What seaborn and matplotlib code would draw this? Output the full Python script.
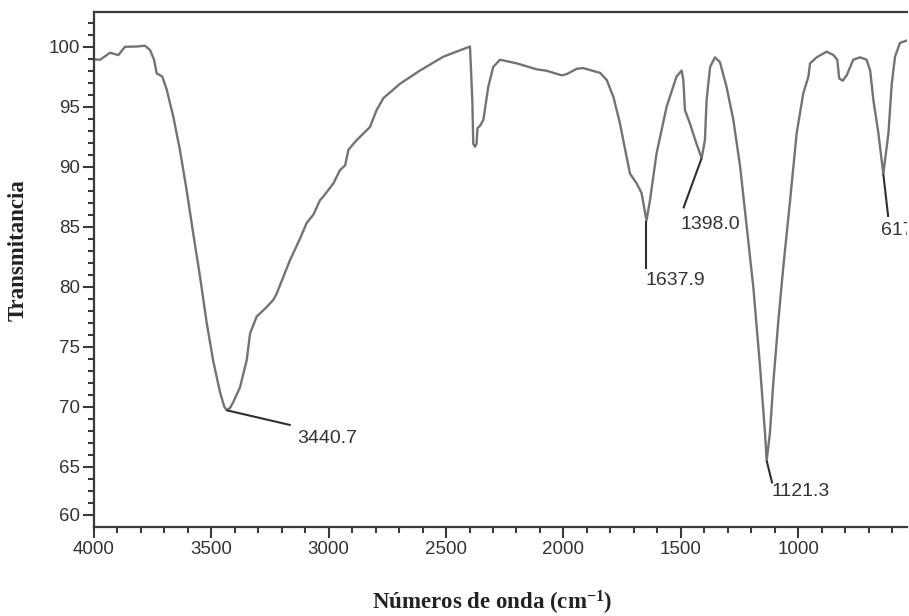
import matplotlib
matplotlib.use("Agg")
import matplotlib.pyplot as plt
import seaborn as sns
import pandas as pd
from matplotlib.ticker import FixedLocator, MultipleLocator

# ---- data ----
wavenumber = [4000, 3996, 3974, 3932, 3896, 3868, 3818, 3783, 3761, 3744, 3733, 3709,
              3690, 3662, 3634, 3605, 3577, 3548, 3520, 3492, 3463, 3445, 3435, 3420, 3406,
              3378, 3349, 3335, 3307, 3264, 3236, 3222, 3165, 3122, 3094, 3065, 3037,
              3023, 2980, 2952, 2930, 2916, 2881, 2824, 2796, 2767, 2696, 2611, 2512,
              2398, 2388, 2384, 2377, 2370, 2366, 2355, 2341, 2320, 2299, 2270, 2199,
              2114, 2071, 2007, 1986, 1943, 1915, 1843, 1815, 1787, 1759, 1745, 1716,
              1688, 1667, 1646, 1631, 1603, 1560, 1518, 1496, 1489, 1482, 1461, 1433,
              1411, 1397, 1390, 1375, 1354, 1333, 1305, 1276, 1247, 1219, 1191, 1162,
              1141, 1134, 1120, 1106, 1084, 1063, 1034, 1006, 978, 956, 949, 921, 878,
              850, 833, 825, 810, 793, 765, 736, 708, 693, 679, 658, 637, 615, 601, 587,
              566, 537]
transmittance = [98.9, 98.93, 98.9, 99.48, 99.29, 99.98, 100.0, 100.07, 99.7, 98.9, 97.77, 97.5,
                 96.4, 94.15, 91.4, 88.0, 84.4, 80.8, 77.0, 73.8, 71.2, 70.0, 69.7, 69.9, 70.4,
                 71.6, 73.9, 76.1, 77.5, 78.3, 78.9, 79.4, 82.2, 84.0, 85.3, 86.0, 87.2,
                 87.5, 88.6, 89.7, 90.1, 91.4, 92.2, 93.3, 94.7, 95.7, 96.9, 98.0, 99.15,
                 100.0, 95.5, 91.9, 91.65, 91.9, 93.2, 93.4, 93.9, 96.65, 98.3, 98.9, 98.6,
                 98.1, 97.98, 97.6, 97.7, 98.15, 98.2, 97.8, 97.2, 95.8, 93.6, 92.2, 89.4,
                 88.6, 87.8, 85.5, 87.2, 91.1, 95.0, 97.5, 98.0, 97.2, 94.7, 93.6, 91.9,
                 90.7, 92.2, 95.5, 98.3, 99.1, 98.7, 96.65, 93.9, 90.0, 85.0, 80.0, 73.3,
                 67.8, 65.5, 67.8, 71.9, 77.2, 81.65, 87.2, 92.8, 96.1, 97.5, 98.6, 99.1, 99.57,
                 99.3, 98.9, 97.35, 97.15, 97.6, 98.9, 99.1, 98.9, 98.0, 95.5, 92.8, 89.4, 92.8,
                 96.9, 99.15, 100.3, 100.5]

peak_labels = ["3440.7", "1637.9", "1398.0", "1121.3", "617.3"]
peak_x = [3435, 1646, 1411, 1134, 637]
peak_y = [69.7, 85.5, 90.7, 65.5, 89.4]
lead_end_x = [3162, 1646, 1489, 1110, 616]
lead_end_y = [68.46, 81.46, 86.52, 63.6, 85.8]
text_x = [3135, 1650, 1503, 1115, 647]
text_y = [67.35, 80.5, 85.2, 62.95, 84.7]

y_major_pos = [61, 65, 70, 75, 80, 85, 90, 95, 100]
y_major_lab = ["60", "65", "70", "75", "80", "85", "90", "95", "100"]
x_major = [4000, 3500, 3000, 2500, 2000, 1500, 1000]

df = pd.DataFrame({"wn": wavenumber, "T": transmittance})

sns.set_style("white")
plt.rcParams["font.family"] = ["Liberation Sans", "DejaVu Sans"]
plt.rcParams["mathtext.fontset"] = "custom"
plt.rcParams["mathtext.rm"] = "Liberation Serif:bold"
plt.rcParams["mathtext.it"] = "Liberation Serif:bold"
plt.rcParams["mathtext.bf"] = "Liberation Serif:bold"

fig = plt.figure(figsize=(9.09, 6.16), dpi=100)
ax = fig.add_axes([0.1034, 0.145, 0.8944, 0.835])

sns.lineplot(data=df, x="wn", y="T", sort=False, estimator=None, ax=ax,
             color="#737375", linewidth=1.7)

for i in range(len(peak_labels)):
    ax.plot([peak_x[i], lead_end_x[i]], [peak_y[i], lead_end_y[i]],
            color="#2f2f2f", linewidth=1.5, solid_capstyle="butt")
    ax.text(text_x[i], text_y[i], peak_labels[i], ha="left", va="center",
            fontsize=14, color="#333333", clip_on=True)

ax.set_xlim(4000, 536)
ax.set_ylim(60, 102.85)

ax.xaxis.set_major_locator(FixedLocator(x_major))
ax.xaxis.set_minor_locator(MultipleLocator(100))
ax.yaxis.set_major_locator(FixedLocator(y_major_pos))
ax.set_yticklabels(y_major_lab)
ax.yaxis.set_minor_locator(FixedLocator([v for v in range(62, 103) if v not in y_major_pos]))

ax.tick_params(axis="both", which="major", direction="out", length=8, width=1.5,
               color="#3a3a3a", labelsize=13.5, labelcolor="#333333", pad=2)
ax.tick_params(axis="both", which="minor", direction="out", length=4.5, width=1.5,
               color="#3a3a3a")
ax.tick_params(left=True, bottom=True, top=False, right=False)
ax.tick_params(which="minor", left=True, bottom=True, top=False, right=False)

for side in ["left", "bottom", "top"]:
    ax.spines[side].set_color("#3a3a3a")
    ax.spines[side].set_linewidth(1.6)
ax.spines["right"].set_visible(False)

ax.set_xlabel("")
ax.set_ylabel("")
fig.text(0.541, 0.021, "Números de onda (cm$^{-1}$)", fontsize=16.5, fontweight="bold",
         family=["Liberation Serif"], color="#222222", ha="center", va="center")
fig.text(0.0198, 0.594, "Transmitancia", fontsize=16.5, fontweight="bold",
         family=["Liberation Serif"], color="#222222", ha="center", va="center",
         rotation=90)

fig.savefig("out.png", dpi=100)
